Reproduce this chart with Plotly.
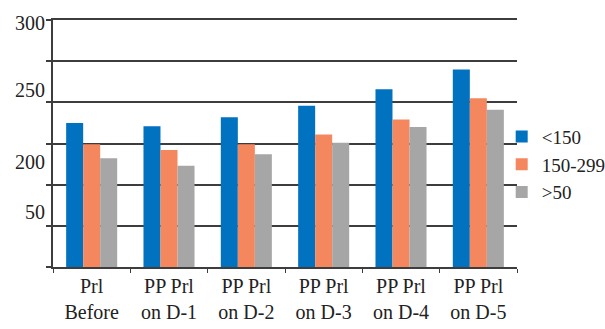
import plotly.graph_objects as go

categories = ["Prl<br>Before", "PP Prl<br>on D-1", "PP Prl<br>on D-2",
              "PP Prl<br>on D-3", "PP Prl<br>on D-4", "PP Prl<br>on D-5"]
series_names = ["<150", "150-299", ">50"]
values_lt150 = [175, 171, 182, 196, 216, 240]
values_150_299 = [149, 142, 149, 161, 179, 205]
values_gt50 = [132, 123, 137, 151, 170, 191]
colors = ["#0072C0", "#F4875E", "#A6A6A6"]

# y tick labels as printed in the source (placed where they appear)
ytick_text = ["300", "250", "200", "50"]
ytick_pos = [296, 215, 128, 67]

FONT = "Liberation Serif"
TXT = "#222222"
LINE = "#3d3d3d"

fig = go.Figure()
for name, vals, col in zip(series_names, [values_lt150, values_150_299, values_gt50], colors):
    fig.add_trace(go.Bar(x=categories, y=vals, name=name, marker_color=col,
                         marker_line_width=0))
# dummy trace to anchor the label axis
fig.add_trace(go.Scatter(x=[categories[0]], y=[None], yaxis="y2", showlegend=False,
                         hoverinfo="skip"))

fig.update_layout(
    width=605, height=329,
    margin=dict(l=53, r=88, t=20, b=62, autoexpand=False),
    paper_bgcolor="white", plot_bgcolor="white",
    barmode="group", bargap=0.34, bargroupgap=0,
    font=dict(family=FONT, size=20, color=TXT),
    showlegend=True,
    legend=dict(x=0.967, y=0.414, xanchor="left", yanchor="middle",
                font=dict(family=FONT, size=19, color=TXT),
                bgcolor="rgba(0,0,0,0)", itemwidth=30, tracegroupgap=0),
    xaxis=dict(showline=True, mirror=True, linecolor=LINE, linewidth=2, ticks="outside",
               tickson="boundaries", ticklen=4, tickcolor=LINE, tickwidth=1,
               tickfont=dict(family=FONT, size=20, color=TXT), showgrid=False),
    yaxis=dict(range=[0, 300], dtick=50, showgrid=True, gridcolor=LINE, gridwidth=2,
               showline=True, linecolor=LINE, linewidth=2, ticks="outside",
               ticklen=5, tickcolor=LINE, tickwidth=2, showticklabels=False,
               zeroline=False),
    yaxis2=dict(range=[0, 300], overlaying="y", side="left", tickvals=ytick_pos,
                ticktext=ytick_text, showgrid=False, showline=False, ticks="",
                zeroline=False, ticklabelstandoff=7,
                tickfont=dict(family=FONT, size=20, color=TXT)),
)

fig.write_html("out.html", config={"displayModeBar": False},
               post_script="document.body.style.margin='0px';")
